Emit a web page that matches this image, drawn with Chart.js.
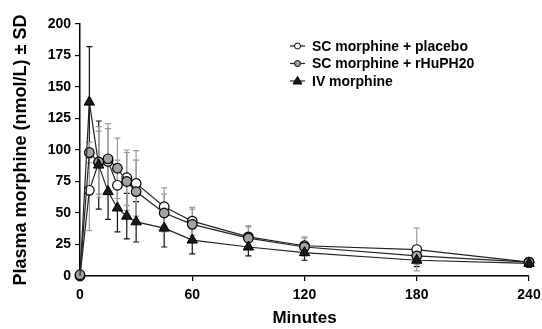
<!DOCTYPE html>
<html>
<head>
<meta charset="utf-8">
<script src="https://cdn.jsdelivr.net/npm/chart.js@4.4.1/dist/chart.umd.min.js"></script>
<style>
  html, body { margin: 0; padding: 0; background: #fff; }
  #wrap { width: 542px; height: 329px; }
</style>
</head>
<body>
<div id="wrap"><canvas id="pk"></canvas></div>
<script>
const minutes = [0, 5, 10, 15, 20, 25, 30, 45, 60, 90, 120, 180, 240];
const xTicks = [0, 60, 120, 180, 240];

const placeboMean = [0, 68, 90, 91, 72, 78, 73.5, 55, 43.5, 31, 24, 21, 11];
const placeboSD   = [0, 32, 25, 26, 20, 22, 26, 15, 11, 9, 7, 17, 3];

const rhuMean = [1, 98, 90.5, 93, 85.5, 75, 67, 50, 41, 30, 23, 16, 11];
const rhuSD   = [0, 8, 28, 28, 24, 23, 25, 15, 12, 9, 7, 7, 3];

const ivMean = [0, 138, 88, 67, 54, 47.5, 43, 38, 28.5, 23, 18.5, 12.5, 10];
const ivSD   = [0, 44, 35, 22, 19, 18, 16, 15, 11, 7, 6, 5, 3];

const legendLabels = ["SC morphine + placebo", "SC morphine + rHuPH20", "IV morphine"];

const FONT = "'Liberation Sans', Arial, sans-serif";

function pts(mean) {
    return minutes.map((m, i) => ({ x: m, y: mean[i] }));
}

// whiskers drawn under the markers
const errorBars = {
    id: "errorBars",
    beforeDatasetsDraw(chart) {
        const ctx = chart.ctx;
        const ys = chart.scales.y;
        chart.data.datasets.forEach((ds, di) => {
            const meta = chart.getDatasetMeta(di);
            ctx.save();
            ctx.strokeStyle = ds.barColor;
            ctx.lineWidth = 1.2;
            meta.data.forEach((el, i) => {
                const sd = ds.sd[i];
                if (!sd) return;
                const v = ds.data[i].y;
                const top = ys.getPixelForValue(v + sd);
                const bot = ys.getPixelForValue(Math.max(v - sd, 0));
                ctx.beginPath();
                ctx.moveTo(el.x, top); ctx.lineTo(el.x, bot);
                ctx.moveTo(el.x - 3, top); ctx.lineTo(el.x + 3, top);
                ctx.moveTo(el.x - 3, bot); ctx.lineTo(el.x + 3, bot);
                ctx.stroke();
            });
            ctx.restore();
        });
    }
};

// legend with line-through-marker keys
const keyLegend = {
    id: "keyLegend",
    afterDraw(chart) {
        const ctx = chart.ctx;
        const order = [2, 1, 0];
        ctx.save();
        ctx.font = "bold 14px " + FONT;
        ctx.textBaseline = "middle";
        ctx.fillStyle = "#000";
        order.forEach((di, row) => {
            const ds = chart.data.datasets[di];
            const y = 46 + row * 17.5;
            ctx.strokeStyle = "#222";
            ctx.lineWidth = 1.2;
            ctx.beginPath();
            ctx.moveTo(290, y); ctx.lineTo(305, y);
            ctx.stroke();
            ctx.fillStyle = ds.pointBackgroundColor;
            ctx.strokeStyle = "#000";
            ctx.lineWidth = 1;
            ctx.beginPath();
            if (ds.pointStyle === "triangle") {
                ctx.moveTo(297.5, y - 4.5);
                ctx.lineTo(302, y + 3);
                ctx.lineTo(293, y + 3);
                ctx.closePath();
            } else {
                ctx.arc(297.5, y, 3, 0, Math.PI * 2);
            }
            ctx.fill();
            ctx.stroke();
            ctx.fillStyle = "#000";
            ctx.fillText(ds.label, 312, y + 1);
        });
        ctx.restore();
    }
};

// dataset 0 is painted last (on top)
new Chart(document.getElementById("pk"), {
    type: "line",
    data: {
        datasets: [
            {
                label: legendLabels[2],
                data: pts(ivMean),
                sd: ivSD,
                barColor: "#111",
                borderColor: "#222",
                borderWidth: 1.2,
                clip: false,
                pointStyle: "triangle",
                pointRadius: [0, 6, 6, 6, 6, 6, 6, 6, 6, 6, 6, 6, 6],
                pointBackgroundColor: "#1a1a1a",
                pointBorderColor: "#000",
                pointBorderWidth: 1
            },
            {
                label: legendLabels[1],
                data: pts(rhuMean),
                sd: rhuSD,
                barColor: "#9a9a9a",
                borderColor: "#222",
                borderWidth: 1.2,
                clip: false,
                pointStyle: "circle",
                pointRadius: 4.8,
                pointBackgroundColor: "#a3a3a3",
                pointBorderColor: "#000",
                pointBorderWidth: 1.2
            },
            {
                label: legendLabels[0],
                data: pts(placeboMean),
                sd: placeboSD,
                barColor: "#9a9a9a",
                borderColor: "#222",
                borderWidth: 1.2,
                clip: false,
                pointStyle: "circle",
                pointRadius: 4.8,
                pointBackgroundColor: "#fff",
                pointBorderColor: "#000",
                pointBorderWidth: 1.2
            }
        ]
    },
    options: {
        responsive: true,
        maintainAspectRatio: false,
        animation: false,
        layout: {
            padding: { top: 24, right: 13, bottom: 0, left: 0 }
        },
        plugins: {
            legend: { display: false },
            tooltip: { enabled: false }
        },
        scales: {
            x: {
                type: "linear",
                min: 0,
                max: 240,
                afterFit: (scale) => {
                    scale.height = 53;
                    scale.paddingLeft = 0;
                    scale.paddingRight = 0;
                },
                afterBuildTicks: (scale) => {
                    scale.ticks = xTicks.map(v => ({ value: v }));
                },
                border: { color: "#000", width: 1.5 },
                grid: {
                    drawOnChartArea: false,
                    drawTicks: true,
                    tickLength: 5,
                    color: "#000",
                    lineWidth: 1.2
                },
                ticks: {
                    color: "#000",
                    padding: 6,
                    maxRotation: 0,
                    font: { family: FONT, size: 14, weight: "bold" }
                },
                title: {
                    display: true,
                    text: "Minutes",
                    color: "#000",
                    padding: { top: 1, bottom: 0 },
                    font: { family: FONT, size: 17, weight: "bold" }
                }
            },
            y: {
                min: 0,
                max: 200,
                afterFit: (scale) => {
                    scale.width = 80;
                    scale.paddingTop = 0;
                    scale.paddingBottom = 0;
                },
                border: { color: "#000", width: 1.5 },
                grid: {
                    drawOnChartArea: false,
                    drawTicks: true,
                    tickLength: 5,
                    color: "#000",
                    lineWidth: 1.2
                },
                ticks: {
                    stepSize: 25,
                    color: "#000",
                    padding: 4,
                    font: { family: FONT, size: 14, weight: "bold" }
                },
                title: {
                    display: true,
                    text: "Plasma morphine (nmol/L) ± SD",
                    color: "#000",
                    padding: { top: 10, bottom: 0 },
                    font: { family: FONT, size: 18, weight: "bold" }
                }
            }
        }
    },
    plugins: [errorBars, keyLegend]
});
</script>
</body>
</html>
